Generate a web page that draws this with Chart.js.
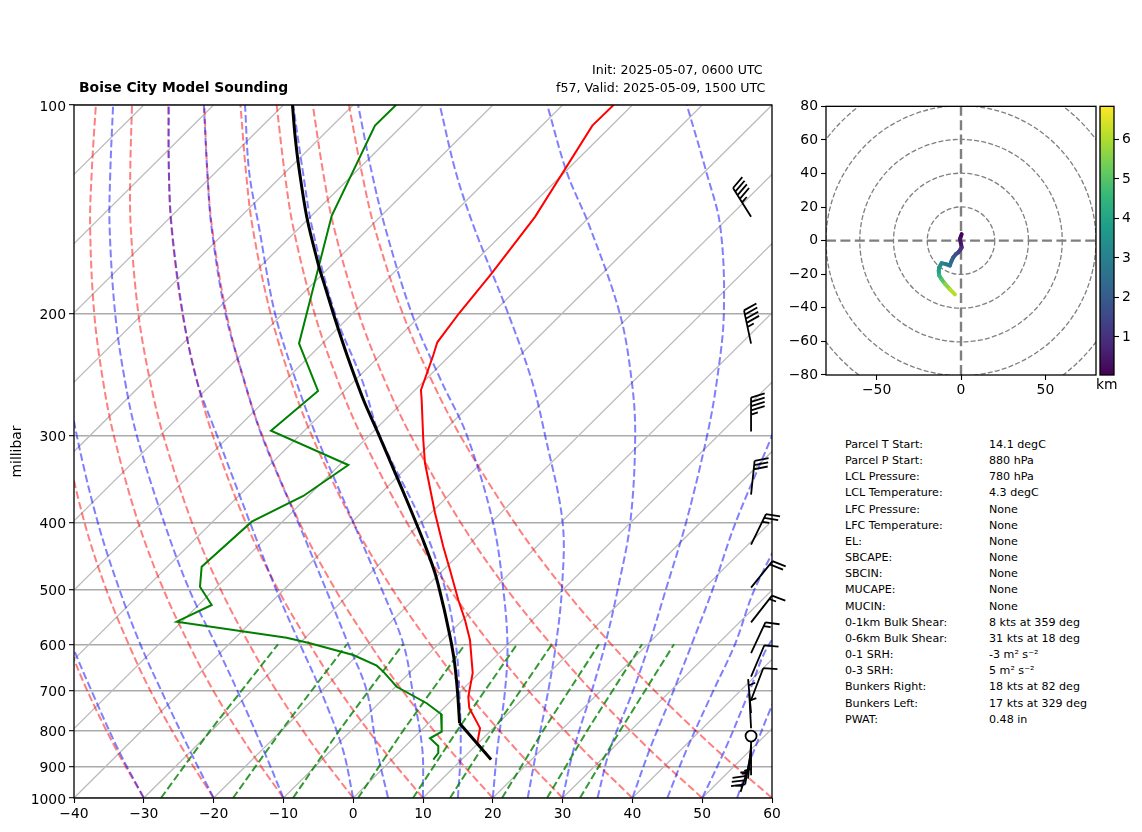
<!DOCTYPE html>
<html>
<head>
<meta charset="utf-8">
<title>Boise City Model Sounding</title>
<script src="https://cdn.jsdelivr.net/npm/chart.js@4"></script>
<style>
  html, body { margin: 0; padding: 0; background: #fff; }
  body { width: 1142px; height: 832px; position: relative; overflow: hidden; font-family: "DejaVu Sans", sans-serif; color: #000; }
  canvas { position: absolute; }
  .txt { position: absolute; white-space: nowrap; line-height: 1; }
  #title { left: 79px; top: 81px; font-size: 13.9px; font-weight: bold; }
  #init { left: 592px; top: 64px; font-size: 12.6px; }
  #valid { left: 556px; top: 82px; font-size: 12.6px; }
  #kmlabel { left: 1096px; top: 378px; font-size: 13.9px; }
  .stat { font-size: 11.1px; }
</style>
</head>
<body>
<canvas id="skewt" width="800" height="832" style="left:0;top:0"></canvas>
<canvas id="hodo" width="310" height="305" style="left:790px;top:95px"></canvas>
<canvas id="cbar" width="44" height="305" style="left:1098px;top:95px"></canvas>
<div class="txt" id="title">Boise City Model Sounding</div>
<div class="txt" id="init">Init: 2025-05-07, 0600 UTC</div>
<div class="txt" id="valid">f57, Valid: 2025-05-09, 1500 UTC</div>
<div class="txt" id="kmlabel">km</div>
<div id="stats"></div>
<script>
// all x values of the skew-t below are positions read on the bottom (skewed) axis
const pressureTicks = [100, 200, 300, 400, 500, 600, 700, 800, 900, 1000]

// sounding traces
const parcelDryP = [880, 780]
const parcelDryX = [19.74, 15.24]
const parcelMoistP = [780, 705.5, 638.7, 601.3, 572, 530, 473.5, 424.4, 371.5, 344, 294.4, 266.5, 229.5, 205.7, 183.7, 170.2, 145.6, 123.3, 110.5, 100]
const parcelMoistX = [15.24, 14.96, 14.53, 14.11, 13.67, 12.95, 11.72, 10, 7.66, 6.25, 3.37, 1.48, -0.89, -2.46, -3.97, -4.97, -6.62, -7.77, -8.34, -8.7]
const tempP = [100, 107.1, 145, 175, 199.6, 220, 229.5, 257.8, 266.5, 304.3, 328.6, 387.9, 433.9, 468.8, 518, 553.5, 591.6, 660.2, 714.3, 741.6, 792.6, 833.4, 880]
const tempX = [37.3, 34.26, 26.05, 19.84, 15.2, 12.05, 11.48, 9.71, 9.81, 10.04, 10.28, 11.72, 12.91, 13.87, 15.06, 16.02, 16.73, 17.12, 16.49, 16.63, 18.17, 17.78, 19.74]
const dewP = [100, 107.1, 144.5, 220.8, 258.6, 295.1, 330.7, 366.6, 399.3, 463.7, 495.6, 526.6, 556.7, 587.1, 598.1, 621.8, 644.2, 657.1, 691, 729.9, 756.3, 802.3, 820.1, 841.4, 861.2, 880]
const dewX = [6.13, 3.12, -3.08, -7.76, -5.04, -11.78, -0.7, -7.15, -14.54, -21.71, -21.95, -20.27, -25.29, -9.53, -6.19, 0.01, 3.37, 4.31, 6.23, 10.53, 12.58, 12.68, 11, 12.19, 12.19, 11.48]

// isotherms: where each one meets the 1000 and the 100 mb line
const isothermBottom = [-130, -120, -110, -100, -90, -80, -70, -60, -50, -40, -30, -20, -10, 0, 10, 20, 30, 40, 50]
const isothermTop = [-30, -20, -10, 0, 10, 20, 30, 40, 50, 60, 70, 80, 90, 100, 110, 120, 130, 140, 150]

// adiabats, one position per level
const adiabatLevels = [1000, 850, 700, 600, 500, 400, 300, 250, 200, 150, 125, 100]
const dryM30 = [-30, -33.98, -38.1, -40.82, -43.59, -46.2, -48.5, -49.3, -49.7, -49.3, -48.5, -47.2]
const dryM20 = [-20, -24.43, -29.07, -32.17, -35.39, -38.51, -41.38, -42.57, -43.41, -43.5, -42.98, -42.05]
const dryM10 = [-10, -14.89, -20.04, -23.53, -27.19, -30.81, -34.29, -35.84, -37.1, -37.69, -37.46, -36.87]
const dry0 = [0, -5.34, -11.01, -14.89, -18.99, -23.12, -27.2, -29.11, -30.78, -31.87, -31.94, -31.69]
const dry10 = [10, 4.2, -1.98, -6.24, -10.78, -15.42, -20.11, -22.38, -24.47, -26.05, -26.41, -26.51]
const dry20 = [20, 13.75, 7.05, 2.4, -2.58, -7.72, -13.02, -15.65, -18.16, -20.23, -20.89, -21.33]
const dry30 = [30, 23.3, 16.08, 11.04, 5.62, -0.03, -5.93, -8.92, -11.84, -14.42, -15.36, -16.15]
const dry40 = [40, 32.84, 25.11, 19.68, 13.83, 7.67, 1.16, -2.19, -5.53, -8.6, -9.83, -10.97]
const dry50 = [50, 42.39, 34.14, 28.33, 22.03, 15.37, 8.25, 4.54, 0.79, -2.78, -4.31, -5.79]
const dry60 = [60, 51.94, 43.17, 36.97, 30.23, 23.07, 15.34, 11.27, 7.1, 3.03, 1.22, -0.61]
const moistM30 = [-30, -33.7, -37.5, -40.3, -43, -45.5, -48, -49, -49.4, -49, -48, -47]
const moistM20 = [-20, -23.5, -27.5, -30.5, -33.5, -36.6, -39.6, -40.9, -41.9, -41.9, -41.5, -40.8]
const moistM10 = [-10, -12.9, -16.6, -19.7, -23.5, -27.1, -31, -32.7, -34.1, -34.9, -34.8, -34.4]
const moist0 = [0, -1.5, -4.66, -7.62, -11.06, -14.8, -19.5, -22.4, -24.4, -26, -26.4, -26.4]
const moist5 = [5, 3.37, 1.93, -0.7, -3.9, -7.9, -13.1, -15.6, -18.3, -20.3, -20.9, -21.4]
const moist10 = [10, 9.9, 8.5, 7.2, 4.1, 0, -5.3, -8.2, -11.2, -13.5, -14.9, -15.5]
const moist15 = [15, 15.4, 15.2, 14.7, 13.2, 9.8, 3.8, 1.3, -2.6, -5.9, -7.2, -8.6]
const moist20 = [20, 20.65, 21.75, 22.1, 21.5, 20.03, 16.3, 12.6, 8.4, 4.56, 2.65, 0.7]
const moist25 = [25, 26.3, 27.95, 29.05, 29.9, 30, 27.5, 25.6, 22.2, 17.3, 14.7, 12.4]
const moist30 = [30, 31.6, 34.2, 36.1, 37.9, 39.7, 40.4, 39.9, 38.2, 33.9, 30.6, 27.8]
const moist35 = [35, 36.8, 40.1, 42.4, 44.8, 47.7, 50.7, 52.1, 53.1, 52.6, 50.6, 47.8]
const moist40 = [40, 42.5, 45.9, 48.5, 51.5, 54.8, 60, 63, 65.5, 66, 65.5, 64]
const moist45 = [45, 47.8, 51.6, 54.7, 57.5, 62.5, 70, 75, 80, 84, 85, 85]
const moist50 = [50, 53.3, 56.8, 59.6, 66, 73, 82, 87, 92, 96, 97, 98]
const moist55 = [55, 57.5, 61, 65, 72, 81, 92, 98, 104, 110, 112, 115]

// mixing ratio lines stop at 600 mb
const mixingLevels = [1000, 800, 600]
const mixing1 = [-27.54, -20.52, -10.77]
const mixing2 = [-17.22, -10.34, -0.89]
const mixing3 = [-8.62, -2.03, 7.13]
const mixing4 = [0.69, 7.13, 16.02]
const mixing5 = [8.57, 14.87, 23.47]
const mixing6 = [13.87, 20.03, 28.48]
const mixing7 = [21.32, 27.19, 35.21]
const mixing8 = [27.77, 33.5, 41.38]
const mixing9 = [32.49, 38.22, 45.96]

// wind barbs
const windP = [145, 221, 296, 365, 431, 497, 558, 618, 668, 722, 754, 793, 814, 828, 838, 855, 880]
const windSpeed = [45, 45, 45, 30, 25, 20, 15, 15, 10, 10, 5, 5, 0, 5, 5, 35, 5]
const windDir = [328, 348, 0, 6, 26, 39, 38, 25, 23, 21, 355, 357, 0, 180, 185, 190, 198]
const barbColumnX = 57

// hodograph
const hodoU = [0.4, -0.6, 0.4, -0.2, -1.6, -3, -4.6, -5.6, -6.6, -9, -11.5, -12.9, -13.2, -12.9, -11.5, -9.5, -6.5, -3.6]
const hodoV = [3.95, 1, -4, -5, -7, -8, -10, -12, -14.8, -14, -13.4, -15.8, -18, -20.7, -23, -25.7, -29, -32]
const hodoKm = [0.1, 0.4, 0.8, 1.1, 1.4, 1.7, 2, 2.3, 2.6, 2.9, 3.2, 3.6, 4, 4.5, 5, 5.6, 6.1, 6.3]
const hodoRings = [20, 40, 60, 80, 100]
const hodoXTicks = [-50, 0, 50]
const hodoYTicks = [-80, -60, -40, -20, 0, 20, 40, 60, 80]
const colorbarTicks = [1, 2, 3, 4, 5, 6]
const colorbarMin = 0.035
const colorbarMax = 6.84
const viridis = ['#440154', '#482878', '#3e4989', '#31688e', '#26828e', '#1f9e89', '#35b779', '#6ece58', '#b5de2b', '#fde725']

// stats panel
const statLabels = ['Parcel T Start:', 'Parcel P Start:', 'LCL Pressure:', 'LCL Temperature:', 'LFC Pressure:', 'LFC Temperature:', 'EL:', 'SBCAPE:', 'SBCIN:', 'MUCAPE:', 'MUCIN:', '0-1km Bulk Shear:', '0-6km Bulk Shear:', '0-1 SRH:', '0-3 SRH:', 'Bunkers Right:', 'Bunkers Left:', 'PWAT:']
const statValues = ['14.1 degC', '880 hPa', '780 hPa', '4.3 degC', 'None', 'None', 'None', 'None', 'None', 'None', 'None', '8 kts at 359 deg', '31 kts at 18 deg', '-3 m² s⁻²', '5 m² s⁻²', '18 kts at 82 deg', '17 kts at 329 deg', '0.48 in']

Chart.defaults.font.family = '"DejaVu Sans", sans-serif'
Chart.defaults.font.size = 13.9
Chart.defaults.color = '#000'
Chart.defaults.animation = false
Chart.defaults.devicePixelRatio = 1
Chart.defaults.responsive = false
Chart.defaults.plugins.legend.display = false
Chart.defaults.plugins.tooltip.enabled = false
Chart.defaults.elements.point.radius = 0

const minusSign = v => String(v).replace('-', '\u2212')
const pts = (xs, ys) => xs.map((x, i) => ({ x, y: ys[i] }))
const curve = (xs, ys, color, extra) => ({ data: pts(xs, ys), borderColor: color, borderWidth: 2, showLine: true, fill: false, ...extra })
const axisTicks = { display: true, drawOnChartArea: false, drawTicks: true, tickLength: 5, tickColor: '#000', tickWidth: 1.1 }

const framePlugin = {
  id: 'frame',
  afterDraw(chart) {
    const { ctx, chartArea: a } = chart
    ctx.save()
    ctx.strokeStyle = '#000'
    ctx.lineWidth = 1.3
    ctx.strokeRect(a.left, a.top, a.right - a.left, a.bottom - a.top)
    ctx.restore()
  }
}

function drawBarb(ctx, x, y, speed, dir) {
  const L = 34
  const sx = Math.sin(dir * Math.PI / 180), sy = -Math.cos(dir * Math.PI / 180)
  const nx = -sy, ny = sx
  if (speed < 5) {
    ctx.beginPath()
    ctx.arc(x, y, 5.5, 0, Math.PI * 2)
    ctx.fillStyle = '#fff'
    ctx.fill()
    ctx.stroke()
    return
  }
  ctx.beginPath()
  ctx.moveTo(x, y)
  ctx.lineTo(x + sx * L, y + sy * L)
  const step = L * 0.125, h = L * 0.4
  let offset = L
  const full = Math.floor(speed / 10), half = speed % 10 >= 5
  for (let i = 0; i < full; i++) {
    ctx.moveTo(x + sx * offset, y + sy * offset)
    ctx.lineTo(x + sx * (offset + step) + nx * h, y + sy * (offset + step) + ny * h)
    offset -= step
  }
  if (half) {
    if (!full) offset -= step * 1.5
    ctx.moveTo(x + sx * offset, y + sy * offset)
    ctx.lineTo(x + sx * (offset + step / 2) + nx * h / 2, y + sy * (offset + step / 2) + ny * h / 2)
  }
  ctx.stroke()
}

const barbPlugin = {
  id: 'barbs',
  afterDatasetsDraw(chart) {
    const { ctx, scales } = chart
    ctx.save()
    ctx.strokeStyle = '#000'
    ctx.lineWidth = 1.8
    windP.forEach((p, i) => {
      drawBarb(ctx, scales.x.getPixelForValue(barbColumnX), scales.y.getPixelForValue(p), windSpeed[i], windDir[i])
    })
    ctx.restore()
  }
}

const dryColor = 'rgba(255,0,0,0.5)'
const moistColor = 'rgba(0,0,255,0.5)'
const mixColor = 'rgba(0,128,0,0.8)'
const dashed = { borderDash: [7.7, 3.3], tension: 0.35 }
const mixDashed = { borderDash: [7.7, 3.3] }

new Chart(document.getElementById('skewt'), {
  type: 'scatter',
  data: {
    // first dataset ends up on top
    datasets: [
      curve(parcelDryX, parcelDryP, '#000', { borderWidth: 3 }),
      curve(parcelMoistX, parcelMoistP, '#000', { borderWidth: 3, tension: 0.3 }),
      curve(tempX, tempP, '#ff0000'),
      curve(dewX, dewP, '#008000'),
      ...[mixing1, mixing2, mixing3, mixing4, mixing5, mixing6, mixing7, mixing8, mixing9].map(m => curve(m, mixingLevels, mixColor, mixDashed)),
      ...[moistM30, moistM20, moistM10, moist0, moist5, moist10, moist15, moist20, moist25, moist30, moist35, moist40, moist45, moist50, moist55].map(m => curve(m, adiabatLevels, moistColor, dashed)),
      ...[dryM30, dryM20, dryM10, dry0, dry10, dry20, dry30, dry40, dry50, dry60].map(m => curve(m, adiabatLevels, dryColor, dashed)),
      ...isothermBottom.map((b, i) => curve([b, isothermTop[i]], [1000, 100], '#bbbbbb', { borderWidth: 1.3 }))
    ]
  },
  options: {
    layout: { autoPadding: false, padding: { top: 105, right: 28 } },
    scales: {
      x: {
        type: 'linear', min: -40, max: 60,
        afterFit: s => { s.height = 34 },
        border: { display: false },
        grid: axisTicks,
        ticks: { stepSize: 10, padding: 3, maxRotation: 0, callback: minusSign }
      },
      y: {
        type: 'logarithmic', min: 100, max: 1000, reverse: true,
        afterFit: s => { s.width = 74 },
        afterBuildTicks: s => { s.ticks = pressureTicks.map(value => ({ value })) },
        border: { display: false },
        grid: { color: '#aaaaaa', lineWidth: 1.4, tickLength: 5, tickColor: '#000', tickWidth: 1.1, drawTicks: true },
        ticks: { autoSkip: false, padding: 3, labelOffset: 2, callback: v => String(v) },
        title: { display: true, text: 'millibar', padding: { top: 9, bottom: 0 } }
      }
    }
  },
  plugins: [barbPlugin, framePlugin]
})

function viridisAt(km) {
  const t = Math.min(Math.max((km - colorbarMin) / (colorbarMax - colorbarMin), 0), 1) * (viridis.length - 1)
  const i = Math.min(Math.floor(t), viridis.length - 2), f = t - i
  const rgb = h => [1, 3, 5].map(k => parseInt(h.substr(k, 2), 16))
  const a = rgb(viridis[i]), b = rgb(viridis[i + 1])
  return `rgb(${a.map((c, k) => Math.round(c + (b[k] - c) * f)).join(',')})`
}

const ringPlugin = {
  id: 'rings',
  beforeDatasetsDraw(chart) {
    const { ctx, scales, chartArea: a } = chart
    const cx = scales.x.getPixelForValue(0), cy = scales.y.getPixelForValue(0)
    ctx.save()
    ctx.beginPath()
    ctx.rect(a.left, a.top, a.right - a.left, a.bottom - a.top)
    ctx.clip()
    ctx.strokeStyle = '#7f7f7f'
    ctx.lineWidth = 1.3
    ctx.setLineDash([5, 2.2])
    hodoRings.forEach(r => {
      ctx.beginPath()
      ctx.arc(cx, cy, scales.x.getPixelForValue(r) - cx, 0, Math.PI * 2)
      ctx.stroke()
    })
    ctx.restore()
  }
}

new Chart(document.getElementById('hodo'), {
  type: 'scatter',
  data: {
    datasets: [
      { data: pts(hodoU, hodoV), showLine: true, borderWidth: 4, borderCapStyle: 'round', borderJoinStyle: 'round',
        segment: { borderColor: c => viridisAt(hodoKm[c.p0DataIndex]) } },
      curve([-80, 80], [0, 0], '#7f7f7f', { borderDash: [10, 4.4], borderWidth: 2.4 }),
      curve([0, 0], [-80, 80], '#7f7f7f', { borderDash: [10, 4.4], borderWidth: 2.4 })
    ]
  },
  options: {
    layout: { autoPadding: false, padding: { top: 10, right: 4 } },
    scales: {
      x: {
        type: 'linear', min: -80, max: 80,
        afterFit: s => { s.height = 25 },
        afterBuildTicks: s => { s.ticks = hodoXTicks.map(value => ({ value })) },
        border: { display: false },
        grid: axisTicks,
        ticks: { autoSkip: false, padding: 2, maxRotation: 0, callback: minusSign }
      },
      y: {
        type: 'linear', min: -80, max: 80,
        afterFit: s => { s.width = 36 },
        afterBuildTicks: s => { s.ticks = hodoYTicks.map(value => ({ value })) },
        border: { display: false },
        grid: axisTicks,
        ticks: { autoSkip: false, padding: 3, callback: minusSign }
      }
    }
  },
  plugins: [ringPlugin, framePlugin]
})

new Chart(document.getElementById('cbar'), {
  type: 'bar',
  data: {
    labels: ['km'],
    datasets: [{
      data: [[colorbarMin, colorbarMax]],
      barPercentage: 1,
      categoryPercentage: 1,
      backgroundColor: c => {
        const a = c.chart.chartArea
        if (!a) return viridis[0]
        const g = c.chart.ctx.createLinearGradient(0, a.bottom, 0, a.top)
        viridis.forEach((col, i) => g.addColorStop(i / (viridis.length - 1), col))
        return g
      }
    }]
  },
  options: {
    layout: { autoPadding: false, padding: { top: 10, left: 2, bottom: 25 } },
    scales: {
      x: { display: false },
      y: {
        position: 'right', min: colorbarMin, max: colorbarMax,
        afterFit: s => { s.width = 28 },
        afterBuildTicks: s => { s.ticks = colorbarTicks.map(value => ({ value })) },
        border: { display: false },
        grid: axisTicks,
        ticks: { autoSkip: false, padding: 3 }
      }
    }
  },
  plugins: [framePlugin]
})

// stats panel, two text columns
const statsEl = document.getElementById('stats')
statsEl.innerHTML = statLabels.map((label, i) => {
  const top = 439 + i * 16.16
  return `<div class="txt stat" style="left:845px;top:${top}px">${label}</div>` +
    `<div class="txt stat" style="left:989px;top:${top}px">${statValues[i]}</div>`
}).join('')
</script>
</body>
</html>
